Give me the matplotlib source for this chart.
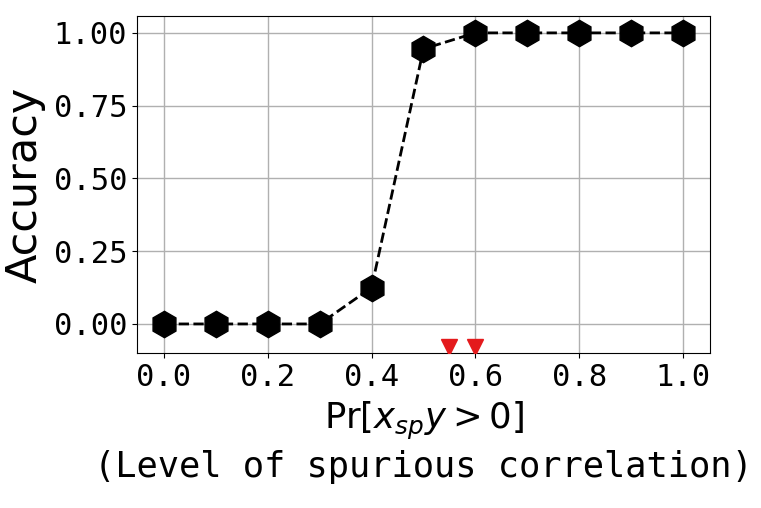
import matplotlib
matplotlib.use('Agg')
import matplotlib.pyplot as plt

# spurious correlation level vs accuracy
levels = [0.0, 0.1, 0.2, 0.3, 0.4, 0.5, 0.6, 0.7, 0.8, 0.9, 1.0]
accuracy = [0.0, 0.0, 0.0, 0.0, 0.125, 0.945, 1.0, 1.0, 1.0, 1.0, 1.0]
marks_x = [0.55, 0.6]
marks_y = [-0.08, -0.08]

plt.rcParams['font.family'] = 'DejaVu Sans Mono'
plt.rcParams['mathtext.fontset'] = 'dejavusans'

fig = plt.figure(figsize=(7.61, 5.08), dpi=100)
ax = fig.add_axes([0.180, 0.305, 0.753, 0.6635])

ax.plot(levels, accuracy, linestyle='--', color='black', linewidth=2,
        marker='h', markersize=19, zorder=3)
ax.plot(marks_x, marks_y, linestyle='none', marker='v', color='#e41a1c',
        markersize=12, zorder=4)

ax.set_xlim(-0.052, 1.052)
ax.set_ylim(-0.1, 1.058)
ax.set_xticks([0.0, 0.2, 0.4, 0.6, 0.8, 1.0])
ax.set_yticks([0.0, 0.25, 0.5, 0.75, 1.0])
ax.set_xticklabels(['0.0', '0.2', '0.4', '0.6', '0.8', '1.0'])
ax.set_yticklabels(['0.00', '0.25', '0.50', '0.75', '1.00'])
ax.tick_params(labelsize=22)
ax.grid(True, color='#b0b0b0', linewidth=1)

ax.set_ylabel('Accuracy', fontsize=31, family='DejaVu Sans', labelpad=6)
ax.set_xlabel('$\\mathrm{Pr}[x_{sp}y > 0]$\n(Level of spurious correlation)',
              fontsize=25.5, linespacing=1.3, labelpad=6)

fig.savefig('out.png', dpi=100)
